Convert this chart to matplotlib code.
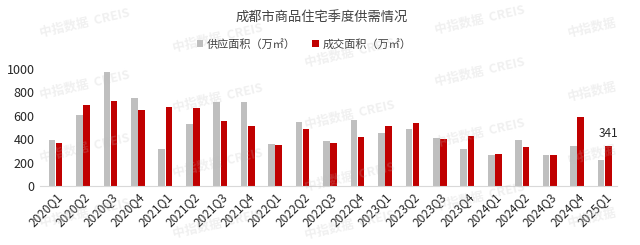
import numpy as np
import matplotlib
matplotlib.use("Agg")
import matplotlib.pyplot as plt

plt.rcParams['font.family'] = ['Noto Sans CJK SC', 'DejaVu Sans']

quarters = ["2020Q1", "2020Q2", "2020Q3", "2020Q4", "2021Q1", "2021Q2", "2021Q3",
            "2021Q4", "2022Q1", "2022Q2", "2022Q3", "2022Q4", "2023Q1", "2023Q2",
            "2023Q3", "2023Q4", "2024Q1", "2024Q2", "2024Q3", "2024Q4", "2025Q1"]
supply = [394, 606, 974, 751, 320, 531, 714, 714, 363, 549, 386, 560, 449, 486,
          414, 320, 269, 391, 269, 343, 226]
deals = [371, 694, 723, 651, 674, 666, 557, 511, 351, 491, 371, 417, 517, 537,
         400, 429, 271, 334, 263, 589, 341]
series_names = ["供应面积（万㎡）", "成交面积（万㎡）"]
title = "成都市商品住宅季度供需情况"
gray = "#BFBFBF"
red = "#C00000"

fig = plt.figure(figsize=(6.4, 2.45), dpi=100)
ax = fig.add_axes([40 / 640, 1 - 186 / 245, 577 / 640, 117 / 245])

x = np.arange(len(quarters))
w = 0.24
b1 = ax.bar(x - 0.13, supply, w, color=gray, label=series_names[0])
b2 = ax.bar(x + 0.13, deals, w, color=red, label=series_names[1])

# only the latest quarter is labelled
ax.text(x[-1] + 0.13, deals[-1] + 50, str(deals[-1]), ha="center", va="bottom",
        fontsize=8.5, color="#262626")

ax.set_ylim(0, 1000)
ax.set_xlim(-0.565, 20.45)
ax.set_yticks([0, 200, 400, 600, 800, 1000])
ax.tick_params(axis="y", length=0, pad=4, labelsize=9, labelcolor="#262626")
ax.set_xticks(x)
ax.set_xticklabels(quarters, rotation=45, ha="right", rotation_mode="anchor",
                   fontsize=8.5, color="#262626")
ax.tick_params(axis="x", length=0, pad=3)
for s in ["top", "right", "left"]:
    ax.spines[s].set_visible(False)
ax.spines["bottom"].set_color("#D9D9D9")

fig.text(322 / 640, 1 - 18 / 245, title, ha="center", va="center",
         fontsize=9.5, color="#404040")
fig.legend(handles=[b1, b2], loc="center", bbox_to_anchor=(304 / 640, 1 - 44 / 245),
           ncol=2, frameon=False, fontsize=8, handlelength=0.6, handleheight=0.6,
           handletextpad=0.3, columnspacing=1.5, labelcolor="#404040")

# faint watermark
marks = [(85, 23), (85, 85), (85, 148), (85, 213),
         (218, 38), (218, 98), (218, 163), (218, 224),
         (350, 53), (350, 115), (350, 177), (350, 225),
         (480, 20), (480, 72), (480, 133), (480, 197)]
for mx, my in marks:
    fig.text(mx / 640, 1 - my / 245, "中指数据  CREIS", ha="center", va="center",
             rotation=13, fontsize=9, fontweight="bold", color="#bbbbbb",
             alpha=0.22, zorder=10)
for my in [28, 92, 155, 218]:
    fig.text(592 / 640, 1 - my / 245, "中指数据", ha="center", va="center",
             rotation=13, fontsize=9, fontweight="bold", color="#bbbbbb",
             alpha=0.22, zorder=10)

fig.savefig("out.png", dpi=100)
